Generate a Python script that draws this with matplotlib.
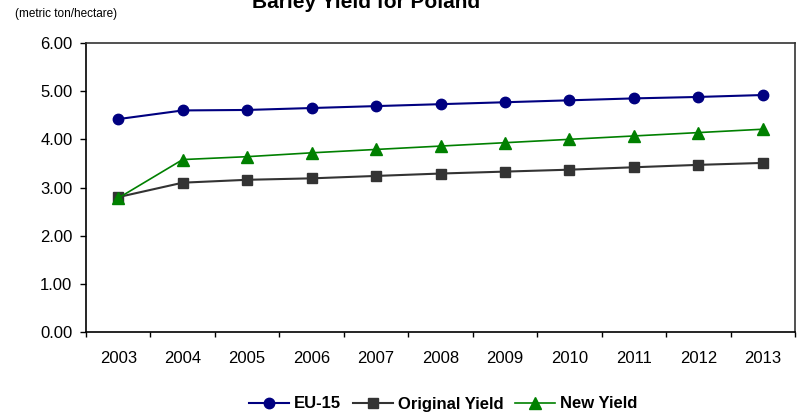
import matplotlib.pyplot as plt
import numpy as np

plt.rcParams['font.family'] = ['Liberation Sans', 'DejaVu Sans']

years = ['2003', '2004', '2005', '2006', '2007', '2008', '2009', '2010', '2011', '2012', '2013']
eu15 = [4.42, 4.60, 4.61, 4.65, 4.69, 4.73, 4.77, 4.81, 4.85, 4.88, 4.92]
original = [2.80, 3.10, 3.16, 3.19, 3.24, 3.29, 3.33, 3.37, 3.42, 3.47, 3.51]
new_yield = [2.78, 3.58, 3.64, 3.72, 3.79, 3.86, 3.93, 4.00, 4.07, 4.14, 4.21]
yticks = [0, 1, 2, 3, 4, 5, 6]

fig = plt.figure(figsize=(7.99, 4.16), dpi=100)
ax = fig.add_axes([86 / 799, 1 - 332 / 416, (795 - 86) / 799, (332 - 43) / 416])

x = np.arange(len(years))
ax.plot(x, eu15, color='#000080', lw=1.5, marker='o', ms=7.5, label='EU-15')
ax.plot(x, original, color='#333333', lw=1.5, marker='s', ms=7, label='Original Yield')
ax.plot(x, new_yield, color='#008000', lw=1.2, marker='^', ms=8, label='New Yield')

ax.set_xlim(-0.5, len(years) - 0.5)
ax.set_ylim(0, 6)
ax.set_yticks(yticks)
ax.set_yticklabels(['%.2f' % v for v in yticks], fontsize=12)
ax.set_xticks(x)
ax.set_xticklabels(years, fontsize=12)
ax.tick_params(axis='x', length=0, pad=14)
ax.set_xticks(np.arange(len(years) + 1) - 0.5, minor=True)
ax.tick_params(axis='x', which='minor', length=3.6, width=1, direction='out')
ax.tick_params(axis='y', length=4.3, width=1, direction='out', pad=5.5)

for s in ['left', 'bottom']:
    ax.spines[s].set_linewidth(1.2)
    ax.spines[s].set_color('black')
for s in ['top', 'right']:
    ax.spines[s].set_linewidth(1.2)
    ax.spines[s].set_color('#333333')

fig.text(366 / 799, 1 - 8 / 416, 'Barley Yield for Poland', ha='center', va='baseline',
         fontsize=15, fontweight='bold')
fig.text(15 / 799, 1 - 14 / 416, '(metric ton/hectare)', ha='left', va='center', fontsize=8.5)

leg = fig.legend(loc='center', bbox_to_anchor=(443 / 799, 1 - 404 / 416), ncol=3, frameon=False,
                 prop={'weight': 'bold', 'size': 12}, handlelength=2.4, columnspacing=0.7,
                 handletextpad=0.3)

fig.savefig('out.png', dpi=100)
